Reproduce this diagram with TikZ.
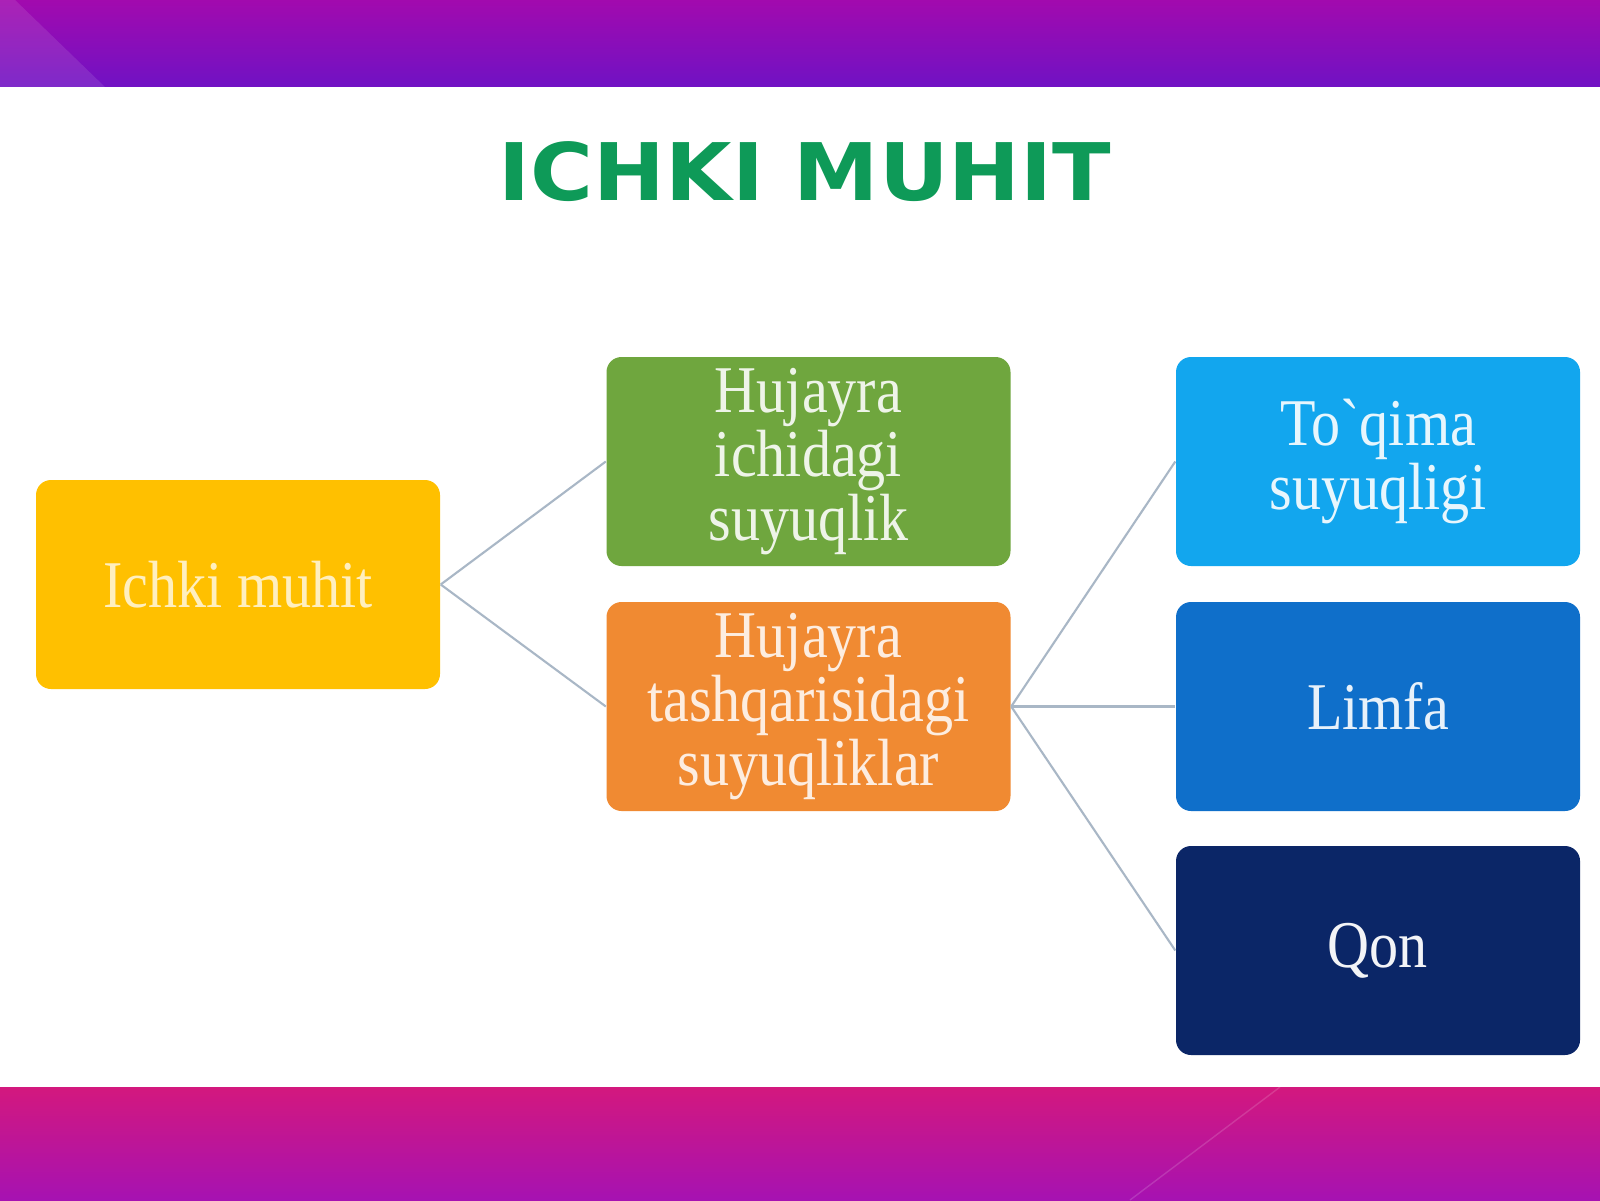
\documentclass[tikz,border=0pt]{standalone}
\usepackage{fontspec}
\newfontfamily\boxfont[FakeStretch=0.87,Ligatures=TeXOff]{Liberation Serif}
\newfontfamily\titlefont[FakeStretch=1.08]{DejaVu Sans}

\definecolor{bandtop}{HTML}{A20AAE}
\definecolor{bandlow}{HTML}{7012C4}
\definecolor{foottop}{HTML}{D3187E}
\definecolor{footlow}{HTML}{A612B2}
\definecolor{titlegreen}{HTML}{0E9A58}
\definecolor{gold}{HTML}{FFC000}
\definecolor{leaf}{HTML}{6FA63E}
\definecolor{tangerine}{HTML}{F08A32}
\definecolor{sky}{HTML}{12A6EE}
\definecolor{ocean}{HTML}{0F6FCA}
\definecolor{navy}{HTML}{0B2667}
\definecolor{linkgray}{HTML}{A9B7C6}

\tikzset{
	box/.style = {rounded corners = 0.15cm, minimum width = 4.04cm, minimum height = 2.09cm,
		inner sep = 0pt, align = center, font = {\boxfont\fontsize{19}{18.2}\selectfont}},
	link/.style = {draw = linkgray, line width = 0.6pt},
}

\begin{document}
\begin{tikzpicture}
	%	page setup
	
	\def\w{16}
	\def\h{12}
	
	\useasboundingbox (0, 0) rectangle (\w, \h);
	\fill[white] (0, 0) rectangle (\w, \h);
	
	%	bands
	\shade[top color = bandtop, bottom color = bandlow] (0, 11.13) rectangle (\w, \h);
	\fill[white, opacity = 0.1] (0, \h) -- (0.15, \h) -- (1.05, 11.13) -- (0, 11.13) -- cycle;
	\shade[top color = foottop, bottom color = footlow] (0, 0) rectangle (\w, 1.13);
	\draw[white, opacity = 0.15] (12.8, 1.13) -- (11.3, 0);
	
	%	title
	\node[text = titlegreen, font = {\titlefont\bfseries\fontsize{22.6}{26}\selectfont}] (title) at (8.05, 10.28) {ICHKI MUHIT};
	
	%	boxes
	\node[box, fill = gold, text = gold!25!white] (ichki) at (2.38, 6.155) {Ichki muhit};
	\node[box, fill = leaf, text = leaf!12!white] (ichida) at (8.085, 7.385) {Hujayra\\ichidagi\\suyuqlik};
	\node[box, fill = tangerine, text = tangerine!15!white] (tashqari) at (8.085, 4.935) {Hujayra\\tashqarisidagi\\suyuqliklar};
	\node[box, fill = sky, text = sky!10!white] (toqima) at (13.78, 7.385) {To`qima\\suyuqligi};
	\node[box, fill = ocean, text = ocean!10!white] (limfa) at (13.78, 4.935) {Limfa};
	\node[box, fill = navy, text = navy!5!white] (qon) at (13.78, 2.495) {Qon};
	
	%	links
	\draw[link] (ichki.east) -- (ichida.west);
	\draw[link] (ichki.east) -- (tashqari.west);
	\foreach \n in {toqima, limfa, qon}
		\draw[link] (tashqari.east) -- (\n.west);
\end{tikzpicture}
\end{document}
